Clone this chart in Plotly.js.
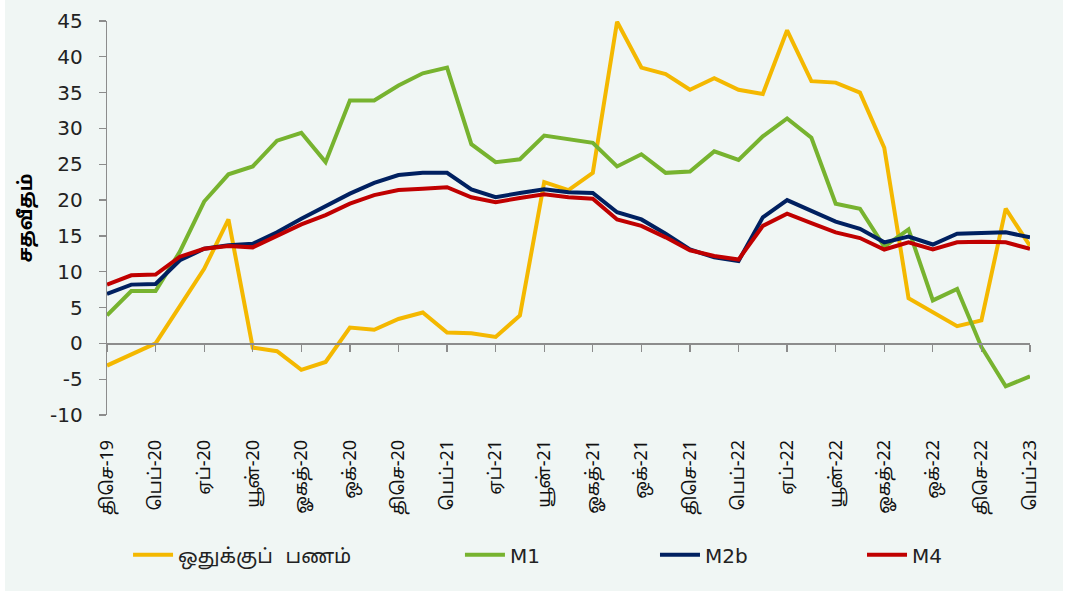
<!DOCTYPE html>
<html>
<head>
<meta charset="utf-8">
<script src="https://cdn.plot.ly/plotly-3.0.1.min.js"></script>
<style>
  html, body { margin: 0; padding: 0; background: #ffffff; }
  #chart { position: absolute; left: 5px; top: 0px; width: 1058px; height: 591px; }
</style>
</head>
<body>
<div id="chart"></div>
<script>
// Months: Dec-2019 .. Feb-2023
const months = [
  "திசெ-19",
  "ஜன-20","பெப்-20","மார்-20","ஏப்-20","மே-20","யூன்-20","யூலை-20","ஓகத்-20","செப்-20","ஒக்-20","நவ-20","திசெ-20",
  "ஜன-21","பெப்-21","மார்-21","ஏப்-21","மே-21","யூன்-21","யூலை-21","ஓகத்-21","செப்-21","ஒக்-21","நவ-21","திசெ-21",
  "ஜன-22","பெப்-22","மார்-22","ஏப்-22","மே-22","யூன்-22","யூலை-22","ஓகத்-22","செப்-22","ஒக்-22","நவ-22","திசெ-22",
  "ஜன-23","பெப்-23"
];

const reserveMoney = [
  -3.1,
  -1.6, 0.0, 5.2, 10.4, 17.3, -0.6, -1.1, -3.7, -2.6, 2.2, 1.9, 3.4,
  4.3, 1.5, 1.4, 0.9, 3.9, 22.5, 21.4, 23.8, 44.9, 38.5, 37.6, 35.4,
  37.0, 35.4, 34.8, 43.7, 36.6, 36.4, 35.0, 27.3, 6.3, 4.4, 2.4, 3.2,
  18.8, 13.6
];

const m1 = [
  3.9,
  7.3, 7.3, 12.8, 19.8, 23.6, 24.7, 28.3, 29.4, 25.3, 33.9, 33.9, 36.0,
  37.7, 38.5, 27.8, 25.3, 25.7, 29.0, 28.5, 28.0, 24.7, 26.4, 23.8, 24.0,
  26.8, 25.6, 28.9, 31.4, 28.7, 19.5, 18.8, 13.5, 15.9, 6.0, 7.6, -0.5,
  -6.0, -4.6
];

const m2b = [
  6.9,
  8.2, 8.3, 11.6, 13.2, 13.7, 13.9, 15.5, 17.4, 19.2, 20.9, 22.4, 23.5,
  23.8, 23.8, 21.5, 20.4, 21.0, 21.5, 21.1, 21.0, 18.3, 17.3, 15.3, 13.1,
  12.0, 11.5, 17.6, 20.0, 18.5, 17.0, 16.0, 14.1, 14.9, 13.8, 15.3, 15.4,
  15.5, 14.8
];

const m4 = [
  8.2,
  9.5, 9.6, 12.1, 13.2, 13.6, 13.4, 15.0, 16.6, 17.9, 19.5, 20.7, 21.4,
  21.6, 21.8, 20.4, 19.7, 20.3, 20.8, 20.4, 20.2, 17.3, 16.4, 14.8, 13.0,
  12.2, 11.7, 16.4, 18.1, 16.8, 15.5, 14.7, 13.1, 14.1, 13.1, 14.1, 14.2,
  14.1, 13.2
];

const yTickVals = [-10, -5, 0, 5, 10, 15, 20, 25, 30, 35, 40, 45];
const yTickText = ["-10", "-5", "0", "5", "10", "15", "20", "25", "30", "35", "40", "45"];

const seriesNames = ["ஒதுக்குப்  பணம்", "M1", "M2b", "M4"];
const seriesColors = ["#F4B800", "#77B32F", "#002060", "#C00000"];
const yTitle = "சதவீதம்";

const tamilFont = "'Noto Sans Tamil', 'Lohit Tamil', 'Latha', 'Nirmala UI', 'DejaVu Sans', sans-serif";
const numFont = "'DejaVu Sans', 'Noto Sans Tamil', sans-serif";

const data = [reserveMoney, m1, m2b, m4].map((vals, i) => ({
  x: months,
  y: vals,
  type: "scatter",
  mode: "lines",
  name: seriesNames[i],
  line: { color: seriesColors[i], width: 4 },
  legend: i === 0 ? "legend" : "legend" + (i + 1),
  hoverinfo: "x+y+name"
}));

const legendY = -0.355;
const legendBase = {
  orientation: "h",
  y: legendY,
  yanchor: "middle",
  xanchor: "left",
  bgcolor: "rgba(0,0,0,0)",
  font: { family: numFont, size: 20, color: "#222222" },
  itemwidth: 40
};

const layout = {
  width: 1058,
  height: 591,
  paper_bgcolor: "#F0F6F4",
  plot_bgcolor: "#F0F6F4",
  margin: { l: 102, r: 33, t: 21, b: 176 },
  showlegend: true,
  xaxis: {
    type: "category",
    anchor: "free",
    position: 10 / 55,
    range: [0, months.length - 1],
    showline: true,
    linecolor: "#8C8C8C",
    linewidth: 1.3,
    ticks: "outside",
    ticklen: 7,
    tickcolor: "#8C8C8C",
    tickwidth: 1.3,
    tickmode: "linear",
    tick0: 0,
    dtick: 2,
    tickangle: -90,
    ticklabelstandoff: 81,
    tickfont: { family: tamilFont, size: 18, color: "#111111" },
    showgrid: false,
    zeroline: false,
    automargin: false,
    fixedrange: true
  },
  yaxis: {
    range: [-10, 45],
    tickmode: "array",
    tickvals: yTickVals,
    ticktext: yTickText,
    showline: true,
    linecolor: "#8C8C8C",
    linewidth: 1.3,
    ticks: "outside",
    ticklen: 7,
    tickcolor: "#8C8C8C",
    tickwidth: 1.3,
    ticklabelstandoff: 12,
    tickfont: { family: numFont, size: 20, color: "#222222" },
    showgrid: false,
    zeroline: false,
    automargin: false,
    title: {
      text: "<b>" + yTitle + "</b>",
      font: { family: tamilFont, size: 19, color: "#000000" },
      standoff: 12
    },
    fixedrange: true
  },
  legend: Object.assign({}, legendBase, { x: 0.0228 }),
  legend2: Object.assign({}, legendBase, { x: 0.3824 }),
  legend3: Object.assign({}, legendBase, { x: 0.5937 }),
  legend4: Object.assign({}, legendBase, { x: 0.8180 })
};

Plotly.newPlot("chart", data, layout, { displayModeBar: false, staticPlot: true });
</script>
</body>
</html>
